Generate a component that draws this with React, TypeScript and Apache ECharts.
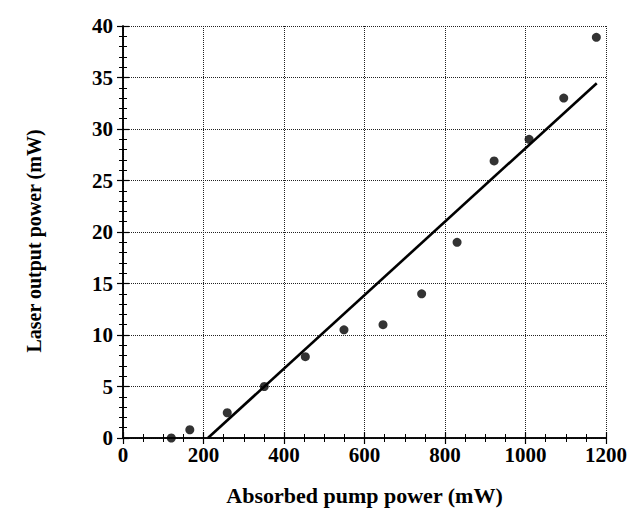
import React, { useEffect, useRef } from "react";
import * as echarts from "echarts";

const pumpPower = [120, 166, 259, 351, 453, 549, 646, 742, 830, 922, 1009, 1095, 1176];
const laserPower = [0, 0.8, 2.45, 5.0, 7.9, 10.5, 11.0, 14.0, 19.0, 26.9, 29.0, 33.0, 38.9];
const fitX = [211, 1177];
const fitY = [0, 34.45];
const xTicks = [0, 200, 400, 600, 800, 1000, 1200];
const yTicks = [0, 5, 10, 15, 20, 25, 30, 35, 40];
const xTitle = "Absorbed pump power (mW)";
const yTitle = "Laser output power (mW)";

const FONT = "'Liberation Serif', 'Times New Roman', serif";

export default function App() {
  const ref = useRef<HTMLDivElement>(null);
  useEffect(() => {
    if (!ref.current) return;
    const chart = echarts.init(ref.current, undefined, { renderer: "svg" });
    const axisLine = { show: true, lineStyle: { color: "#000", width: 1.5 } };
    const splitLine = { show: true, lineStyle: { color: "#222", type: "dotted", width: 1 } };
    const labelStyle = {
      fontFamily: FONT,
      fontWeight: "bold",
      fontSize: 21,
      color: "#000",
      formatter: (v: number) => String(v),
    };
    const xBase = {
      type: "value",
      min: xTicks[0],
      max: xTicks[xTicks.length - 1],
      interval: 200,
      axisLine,
      axisTick: { show: true, inside: true, length: 6, lineStyle: { color: "#000", width: 1.2 } },
      minorTick: { show: true, splitNumber: 4, length: 4, lineStyle: { color: "#000", width: 1 } },
    };
    const yBase = {
      type: "value",
      min: yTicks[0],
      max: yTicks[yTicks.length - 1],
      interval: 5,
      axisLine,
      axisTick: { show: true, inside: true, length: 6, lineStyle: { color: "#000", width: 1.2 } },
      minorTick: { show: true, splitNumber: 5, length: 4, lineStyle: { color: "#000", width: 1 } },
    };
    chart.setOption({
      animation: false,
      backgroundColor: "#fff",
      grid: { left: 123, right: 25, top: 26, bottom: 71, containLabel: false },
      graphic: [
        {
          type: "text",
          x: 34,
          y: 241,
          rotation: Math.PI / 2,
          style: {
            text: yTitle,
            fontFamily: FONT,
            fontWeight: "bold",
            fontSize: 20,
            fill: "#000",
            textAlign: "center",
            textVerticalAlign: "middle",
          },
        },
      ],
      xAxis: [
        {
          ...xBase,
          position: "bottom",
          splitLine,
          name: xTitle,
          nameLocation: "middle",
          nameGap: 46,
          nameTextStyle: { fontFamily: FONT, fontWeight: "bold", fontSize: 22, color: "#000" },
          axisLabel: { ...labelStyle, margin: 6 },
        },
        {
          ...xBase,
          position: "top",
          splitLine: { show: false },
          axisLabel: { show: false },
        },
      ],
      yAxis: [
        {
          ...yBase,
          position: "left",
          splitLine,
          axisLabel: { ...labelStyle, margin: 10 },
        },
        {
          ...yBase,
          position: "right",
          splitLine: { show: false },
          axisLabel: { show: false },
        },
      ],
      series: [
        {
          type: "line",
          data: fitX.map((x, i) => [x, fitY[i]]),
          showSymbol: false,
          symbol: "none",
          lineStyle: { color: "#000", width: 2.6 },
          silent: true,
          z: 3,
        },
        {
          type: "scatter",
          data: pumpPower.map((x, i) => [x, laserPower[i]]),
          symbol: "circle",
          symbolSize: 9,
          itemStyle: { color: "#000" },
          z: 4,
        },
      ],
    });
    return () => chart.dispose();
  }, []);
  return <div ref={ref} style={{ width: 631, height: 511, position: "absolute", left: 0, top: 0 }} />;
}
